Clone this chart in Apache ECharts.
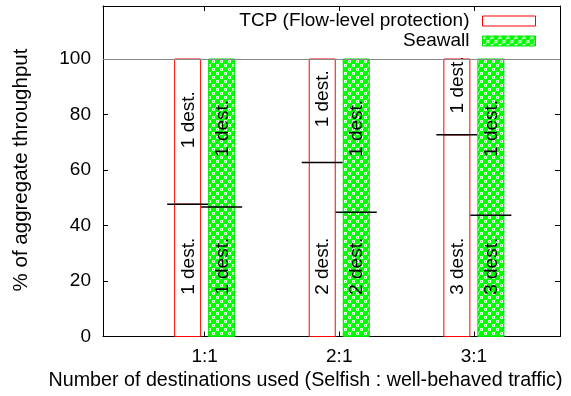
<!DOCTYPE html>
<html>
<head>
<meta charset="utf-8">
<script src="https://cdn.jsdelivr.net/npm/echarts@6/dist/echarts.min.js"></script>
<style>html,body{margin:0;padding:0;background:#fff}#c{width:571px;height:396px}</style>
</head>
<body>
<div id="c"></div>
<script>
// ---- data ----
const categories = ['1:1', '2:1', '3:1'];
const catPos = [1, 2, 3];
const tcpSelfish = [47.7, 62.7, 72.7];      // % to selfish traffic (bottom segment)
const seawallSelfish = [46.7, 44.8, 43.7];
const totalShare = 100;
const selfishLabels = ['1 dest.', '2 dest.', '3 dest.'];
const wellBehavedLabels = ['1 dest.', '1 dest.', '1 dest.'];
const yTickValues = [0, 20, 40, 60, 80, 100];
const seriesNames = ['TCP (Flow-level protection)', 'Seawall'];

// ---- style ----
const FONT = '"Liberation Sans", Arial, Helvetica, sans-serif';
const FS = 19;

function makePattern() {
  const c = document.createElement('canvas');
  c.width = 8; c.height = 8;
  const g = c.getContext('2d');
  g.fillStyle = '#00ff00';
  g.fillRect(0, 0, 8, 8);
  g.fillStyle = '#ffffff';
  const ring = (ox, oy) => {
    const pts = [[1,0],[0,1],[2,1],[1,2],[0,0],[2,0],[0,2],[2,2]];
    pts.forEach(p => {
      g.fillStyle = ((p[0] + p[1]) % 2 === 1) ? '#ffffff' : '#c8ffc8';
      g.fillRect((ox + p[0]) % 8, (oy + p[1]) % 8, 1, 1);
    });
  };
  ring(0, 0); ring(4, 4);
  g.fillStyle = '#ffffff';
  g.fillRect(3, 7, 1, 1); g.fillRect(7, 3, 1, 1);
  return c;
}
const pattern = { image: makePattern(), repeat: 'repeat' };

const BAR_W = 26, BAR_OFF = 17, CAP_W = 41;

function makeRender(side, fillStyle, strokeColor, topLabelShift) {
  return function (params, api) {
    const x = api.value(0), s = api.value(1), i = api.value(2);
    const base = api.coord([x, 0]);
    const top = api.coord([x, totalShare]);
    const mid = api.coord([x, s]);
    const cx = base[0] + side * BAR_OFF;
    const lblBottom = api.coord([x, 25.3]);
    const lblTop = api.coord([x, (s + totalShare) / 2 + topLabelShift(s)]);
    const rectStyle = { fill: fillStyle, stroke: strokeColor, lineWidth: 1 };
    const txt = (t, y) => ({
      type: 'text', x: cx + 1, y: y, rotation: Math.PI / 2,
      style: { text: t, fill: '#000', font: FS + 'px ' + FONT, align: 'center', verticalAlign: 'middle' }
    });
    return {
      type: 'group',
      children: [
        { type: 'rect', shape: { x: cx - BAR_W / 2, y: mid[1], width: BAR_W, height: base[1] - mid[1] }, style: rectStyle },
        { type: 'rect', shape: { x: cx - BAR_W / 2, y: top[1], width: BAR_W, height: mid[1] - top[1] }, style: rectStyle },
        txt(selfishLabels[i], lblBottom[1]),
        txt(wellBehavedLabels[i], lblTop[1]),
        { type: 'line', shape: { x1: cx - CAP_W / 2, y1: mid[1], x2: cx + CAP_W / 2, y2: mid[1] }, style: { stroke: '#000', lineWidth: 1.5 } }
      ]
    };
  };
}

const tcpData = catPos.map((p, i) => [p, tcpSelfish[i], i]);
const swData = catPos.map((p, i) => [p, seawallSelfish[i], i]);

const chart = echarts.init(document.getElementById('c'), null, { renderer: 'canvas' });
const axisLineStyle = { color: '#000', width: 1 };
const option = {
  animation: false,
  backgroundColor: '#fff',
  textStyle: { fontFamily: FONT },
  grid: { left: 103, right: 11, top: 6, bottom: 59.5, containLabel: false },
  xAxis: [
    {
      type: 'value', min: 0.245, max: 3.64, position: 'bottom',
      axisLine: { show: true, onZero: false, lineStyle: axisLineStyle },
      axisTick: { show: true, inside: true, length: 5, customValues: catPos, lineStyle: axisLineStyle },
      axisLabel: { customValues: catPos, margin: 11, color: '#000', fontSize: FS, fontFamily: FONT,
        formatter: v => categories[catPos.indexOf(Math.round(v))] },
      splitLine: { show: false }
    },
    {
      type: 'value', min: 0.245, max: 3.64, position: 'top',
      axisLine: { show: true, onZero: false, lineStyle: axisLineStyle },
      axisTick: { show: true, inside: true, length: 5, customValues: catPos, lineStyle: axisLineStyle },
      axisLabel: { show: false },
      splitLine: { show: false }
    }
  ],
  yAxis: [
    {
      type: 'value', min: 0, max: 119.1, position: 'left',
      axisLine: { show: true, onZero: false, lineStyle: axisLineStyle },
      axisTick: { show: true, inside: true, length: 5, customValues: yTickValues, lineStyle: axisLineStyle },
      axisLabel: { customValues: yTickValues, margin: 12, color: '#000', fontSize: FS, fontFamily: FONT },
      splitLine: { show: false }
    },
    {
      type: 'value', min: 0, max: 119.1, position: 'right',
      axisLine: { show: true, onZero: false, lineStyle: axisLineStyle },
      axisTick: { show: true, inside: true, length: 5, customValues: yTickValues, lineStyle: axisLineStyle },
      axisLabel: { show: false },
      splitLine: { show: false }
    }
  ],
  legend: {
    orient: 'vertical', right: 35, top: 11, align: 'right', padding: 0,
    itemWidth: 53, itemHeight: 10, itemGap: 0,
    textStyle: { fontSize: FS, color: '#000', fontFamily: FONT, lineHeight: 20, padding: [0, 8, 0, 0] },
    data: [
      { name: seriesNames[0], icon: 'rect', itemStyle: { color: '#fff', borderColor: '#ff0000', borderWidth: 1 } },
      { name: seriesNames[1], icon: 'rect', itemStyle: { color: pattern, borderColor: '#00e000', borderWidth: 1 } }
    ]
  },
  graphic: [
    { type: 'text', x: 21, y: 170, rotation: Math.PI / 2,
      style: { text: '% of aggregate throughput', fill: '#000', font: '20.5px ' + FONT, align: 'center', verticalAlign: 'middle' } },
    { type: 'text', x: 305.5, y: 381,
      style: { text: 'Number of destinations used (Selfish : well-behaved traffic)', fill: '#000', font: '19.7px ' + FONT, align: 'center', verticalAlign: 'middle' } }
  ],
  series: [
    {
      name: seriesNames[0], type: 'custom', xAxisIndex: 0, yAxisIndex: 0,
      itemStyle: { color: '#fff', borderColor: '#ff0000' },
      renderItem: makeRender(-1, '#ffffff', '#ff0000', s => 4.3),
      data: tcpData,
      markLine: {
        silent: true, symbol: 'none', label: { show: false },
        lineStyle: { color: '#888', width: 1, type: 'solid' },
        data: [{ yAxis: totalShare }]
      }
    },
    {
      name: seriesNames[1], type: 'custom', xAxisIndex: 0, yAxisIndex: 0,
      itemStyle: { color: '#00ff00', borderColor: '#00e000' },
      renderItem: makeRender(1, pattern, '#00e000', s => 75 - (s + totalShare) / 2),
      data: swData
    }
  ]
};
chart.setOption(option);
</script>
</body>
</html>
